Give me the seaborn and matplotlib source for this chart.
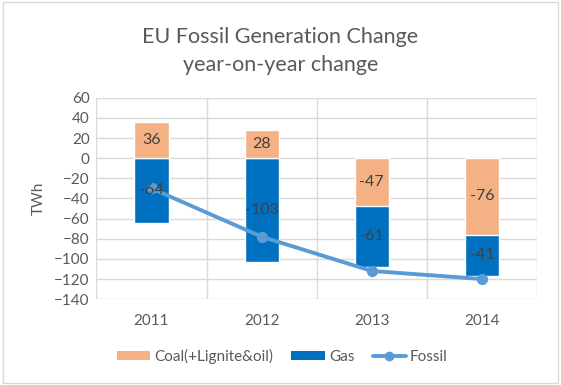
import numpy as np
import matplotlib
matplotlib.use("Agg")
import matplotlib.pyplot as plt
import seaborn as sns
from matplotlib.patches import Patch
from matplotlib.lines import Line2D

# data (TWh, year-on-year change)
years = ["2011", "2012", "2013", "2014"]
coal = [36, 28, -47, -76]
gas = [-64, -103, -61, -41]
fossil = [-30, -78, -112, -120]

COAL_C = "#F4B183"
GAS_C = "#0070C0"
FOSSIL_C = "#5B9BD5"
TXT = "#595959"

sns.set_theme(style="white")
plt.rcParams["font.family"] = ["Lato", "DejaVu Sans"]

fig = plt.figure(figsize=(5.61, 3.85), dpi=100)
ax = fig.add_axes([0.172, 0.223, 0.785, 0.523])

coal_arr = np.array(coal)
gas_arr = np.array(gas)
gas_base = np.minimum(coal_arr, 0)
gas_end = gas_base + gas_arr

# gas drawn as full lower extent, coal overlaid on top -> stacked look
sns.barplot(x=years, y=gas_end, color=GAS_C, width=0.31, saturation=1, ax=ax, zorder=2)
sns.barplot(x=years, y=coal_arr, color=COAL_C, width=0.31, saturation=1, ax=ax, zorder=3)
sns.pointplot(x=years, y=fossil, color=FOSSIL_C, markers="o", markersize=6,
              linewidth=2.8, ax=ax, zorder=4)

# segment labels
for i in range(len(years)):
    ax.text(i, coal_arr[i] / 2, str(coal[i]), ha="center", va="center",
            fontsize=11.5, color="#404040", zorder=5)
    ax.text(i, gas_base[i] + gas_arr[i] / 2, str(gas[i]), ha="center", va="center",
            fontsize=11.5, color="#404040", zorder=5)

ax.set_ylim(-140, 60)
ax.set_yticks(range(-140, 61, 20))
ax.set_xlim(-0.5, 3.5)
ax.set_xticks(np.arange(-0.5, 3.6, 1), minor=True)
ax.grid(True, axis="y", color="#D9D9D9", linewidth=1, zorder=0)
ax.grid(True, axis="x", which="minor", color="#D9D9D9", linewidth=1, zorder=0)
ax.set_axisbelow(True)
for s in ax.spines.values():
    s.set_visible(False)
ax.tick_params(axis="y", which="both", length=0, labelsize=11, colors=TXT, pad=5)
ax.tick_params(axis="x", which="both", length=0, labelsize=11, colors=TXT, pad=11)
ax.set_xlabel("")
ax.set_ylabel("TWh", fontsize=11, color=TXT, labelpad=6)

fig.text(0.5, 0.905, "EU Fossil Generation Change", ha="center", va="center",
         fontsize=15.5, color=TXT)
fig.text(0.5, 0.83, "year-on-year change", ha="center", va="center",
         fontsize=15.5, color=TXT)

handles = [
    Patch(facecolor=COAL_C, edgecolor="none"),
    Patch(facecolor=GAS_C, edgecolor="none"),
    Line2D([0], [0], color=FOSSIL_C, linewidth=2.8, marker="o", markersize=6),
]
fig.legend(handles, ["Coal(+Lignite&oil)", "Gas", "Fossil"], loc="center",
           bbox_to_anchor=(0.503, 0.075), ncol=3, frameon=False, fontsize=11,
           labelcolor=TXT, handlelength=2.2, handleheight=0.55, columnspacing=1.2,
           handletextpad=0.25)

border = plt.Rectangle((0.005, 0.005), 0.99, 0.99, transform=fig.transFigure,
                       fill=False, edgecolor="#D9D9D9", linewidth=1)
fig.patches.append(border)

fig.savefig("out.png", dpi=100)
